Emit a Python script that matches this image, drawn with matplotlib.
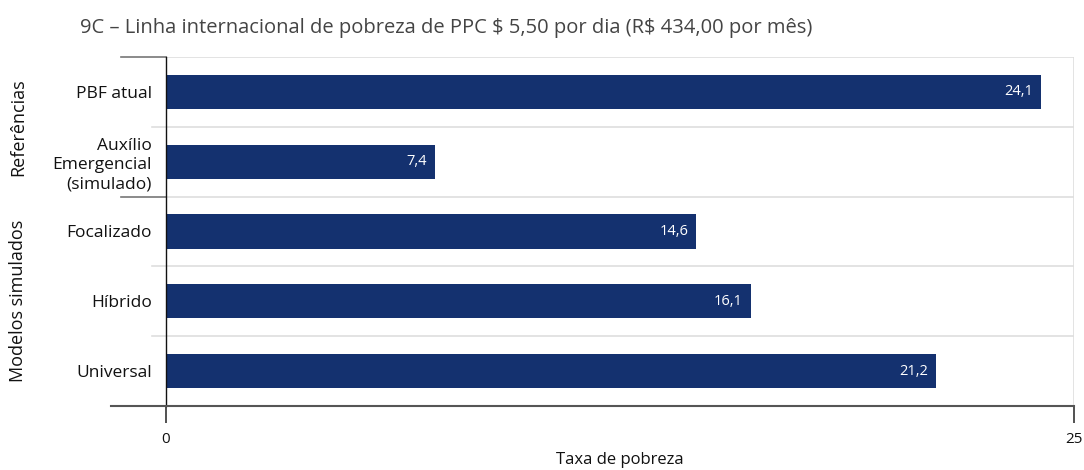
import matplotlib.pyplot as plt
from matplotlib.lines import Line2D

# ----- data ---------------------------------------------------------------- #

categories = ["PBF atual", "Auxílio\nEmergencial\n(simulado)", "Focalizado", "Híbrido", "Universal"]
values = [24.1, 7.4, 14.6, 16.1, 21.2]
groups = ["Referências", "Modelos simulados"]
group_sizes = [2, 3]
x_ticks = [0, 25]

title = "9C – Linha internacional de pobreza de PPC $ 5,50 por dia (R$ 434,00 por mês)"
x_label = "Taxa de pobreza"

bar_color = "#14316f"
font = "Open Sans"

# ----- figure -------------------------------------------------------------- #

plt.rcParams['font.family'] = [font, 'DejaVu Sans']
plt.rcParams['text.parse_math'] = False

W, H = 1084, 470
fig = plt.figure(figsize=(W / 100, H / 100), dpi=100)
ax = fig.add_axes([166 / W, 1 - 406 / H, (1074 - 166) / W, (406 - 57) / H])

y = list(range(len(categories)))
ax.barh(y, values, height=0.49, color=bar_color, zorder=3)
for yi, v in zip(y, values):
    ax.text(v - 0.22, yi, f"{v:.1f}".replace(".", ","), color="white",
            ha="right", va="center", fontsize=10.5, zorder=4)

ax.set_xlim(0, 25)
ax.set_ylim(len(categories) - 0.5, -0.5)
ax.set_yticks(y)
ax.set_yticklabels(categories, fontsize=12.5, color="#111111", linespacing=1.25)
ax.tick_params(axis="y", length=0, pad=10)
ax.set_xticks(x_ticks)
ax.set_xticklabels([str(t) for t in x_ticks], fontsize=11, color="#111111")
ax.tick_params(axis="x", length=12, width=1.2, color="#333333", pad=7)
ax.set_xlabel(x_label, fontsize=12, color="#111111", labelpad=3)

for s in ["top", "bottom", "right"]:
    ax.spines[s].set_visible(False)
ax.spines["left"].set_color("#111111")
ax.spines["left"].set_linewidth(1)
ax.spines["left"].set_zorder(5)

# band separators (light) and right border
for b in [i + 0.5 for i in range(-1, len(categories) - 1)]:
    ax.axhline(b, color="#dedede", lw=1.2, zorder=1)
ax.axvline(25, color="#dedede", lw=1.2, zorder=1)

# separators reaching into the label area
trans = ax.get_yaxis_transform()
span = 1074 - 166
for b in [0.5, 2.5, 3.5]:
    ax.add_line(Line2D([(152 - 166) / span, 0], [b, b], transform=trans,
                       color="#dedede", lw=1.2, clip_on=False))
boundaries = [-0.5]
for n in group_sizes:
    boundaries.append(boundaries[-1] + n)
for b in boundaries[:-1]:
    ax.add_line(Line2D([(121 - 166) / span, 0], [b, b], transform=trans,
                       color="#777777", lw=1.2, clip_on=False))
ax.add_line(Line2D([(111 - 166) / span, 1], [boundaries[-1]] * 2, transform=trans,
                   color="#555555", lw=1.5, clip_on=False, zorder=6))

# group labels, rotated, centred on their band of categories
for g, lo, hi in zip(groups, boundaries[:-1], boundaries[1:]):
    yc = ax.transData.transform((0, (lo + hi) / 2))[1]
    fig.text(18 / W, yc / (fig.dpi * fig.get_figheight()), g, rotation=90,
             ha="center", va="center", fontsize=13, color="#111111")

fig.text(80 / W, 1 - 28 / H, title, fontsize=14.5, color="#444444",
         ha="left", va="center")

fig.savefig("out.png", dpi=100)
